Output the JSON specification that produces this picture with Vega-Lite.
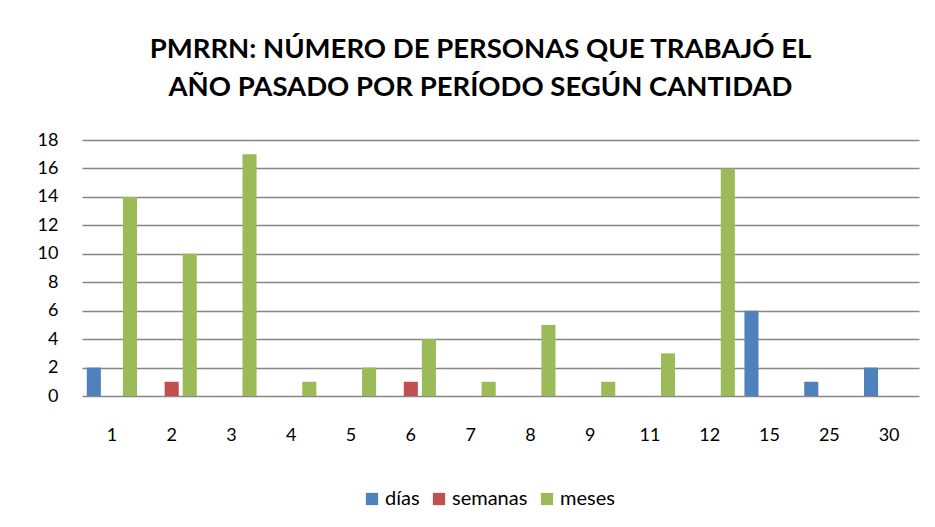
{
  "$schema": "https://vega.github.io/schema/vega-lite/v6.json",
  "width": 837,
  "height": 256,
  "autosize": {"type": "none"},
  "padding": {"left": 82, "top": 140, "right": 16, "bottom": 131},
  "background": "white",
  "title": {
    "text": ["PMRRN: NÚMERO DE PERSONAS QUE TRABAJÓ EL", "AÑO PASADO POR PERÍODO SEGÚN CANTIDAD"],
    "font": "Lato",
    "fontSize": 27.5,
    "fontWeight": "bold",
    "color": "#000000",
    "anchor": "middle",
    "dx": -20,
    "offset": 30,
    "lineHeight": 38
  },
  "data": {
    "values": [
      {"cantidad": "1", "periodo": "días", "personas": 2},
      {"cantidad": "1", "periodo": "meses", "personas": 14},
      {"cantidad": "2", "periodo": "semanas", "personas": 1},
      {"cantidad": "2", "periodo": "meses", "personas": 10},
      {"cantidad": "3", "periodo": "meses", "personas": 17},
      {"cantidad": "4", "periodo": "meses", "personas": 1},
      {"cantidad": "5", "periodo": "meses", "personas": 2},
      {"cantidad": "6", "periodo": "semanas", "personas": 1},
      {"cantidad": "6", "periodo": "meses", "personas": 4},
      {"cantidad": "7", "periodo": "meses", "personas": 1},
      {"cantidad": "8", "periodo": "meses", "personas": 5},
      {"cantidad": "9", "periodo": "meses", "personas": 1},
      {"cantidad": "11", "periodo": "meses", "personas": 3},
      {"cantidad": "12", "periodo": "meses", "personas": 16},
      {"cantidad": "15", "periodo": "días", "personas": 6},
      {"cantidad": "25", "periodo": "días", "personas": 1},
      {"cantidad": "30", "periodo": "días", "personas": 2}
    ]
  },
  "mark": {"type": "bar"},
  "encoding": {
    "x": {
      "field": "cantidad",
      "type": "nominal",
      "sort": ["1", "2", "3", "4", "5", "6", "7", "8", "9", "11", "12", "15", "25", "30"],
      "scale": {"paddingInner": 0.1, "paddingOuter": 0.05},
      "axis": {
        "title": null,
        "labelAngle": 0,
        "labelFont": "Lato",
        "labelFontSize": 18,
        "labelColor": "#000000",
        "labelPadding": 30,
        "ticks": false,
        "domain": false,
        "grid": false
      }
    },
    "xOffset": {
      "field": "periodo",
      "type": "nominal",
      "scale": {"domain": ["días", "semanas", "meses"], "paddingInner": 0.22, "paddingOuter": 0.1}
    },
    "y": {
      "field": "personas",
      "type": "quantitative",
      "scale": {"domain": [0, 18], "nice": false},
      "axis": {
        "title": null,
        "values": [0, 2, 4, 6, 8, 10, 12, 14, 16, 18],
        "labelFont": "Lato",
        "labelFontSize": 18,
        "labelColor": "#000000",
        "labelPadding": 24,
        "ticks": false,
        "domain": false,
        "grid": true,
        "gridColor": "#868686",
        "gridWidth": 1.5,
        "gridOpacity": 1
      }
    },
    "color": {
      "field": "periodo",
      "type": "nominal",
      "scale": {"domain": ["días", "semanas", "meses"], "range": ["#4F81BD", "#C0504D", "#9BBB59"]},
      "legend": {
        "title": null,
        "orient": "none",
        "legendX": 280,
        "legendY": 349,
        "direction": "horizontal",
        "symbolType": "square",
        "symbolSize": 150,
        "symbolStrokeWidth": 0,
        "labelFont": "Lato",
        "labelFontSize": 20,
        "labelColor": "#000000",
        "labelOffset": 3,
        "columnPadding": 9
      }
    }
  },
  "config": {
    "view": {"stroke": null}
  }
}
